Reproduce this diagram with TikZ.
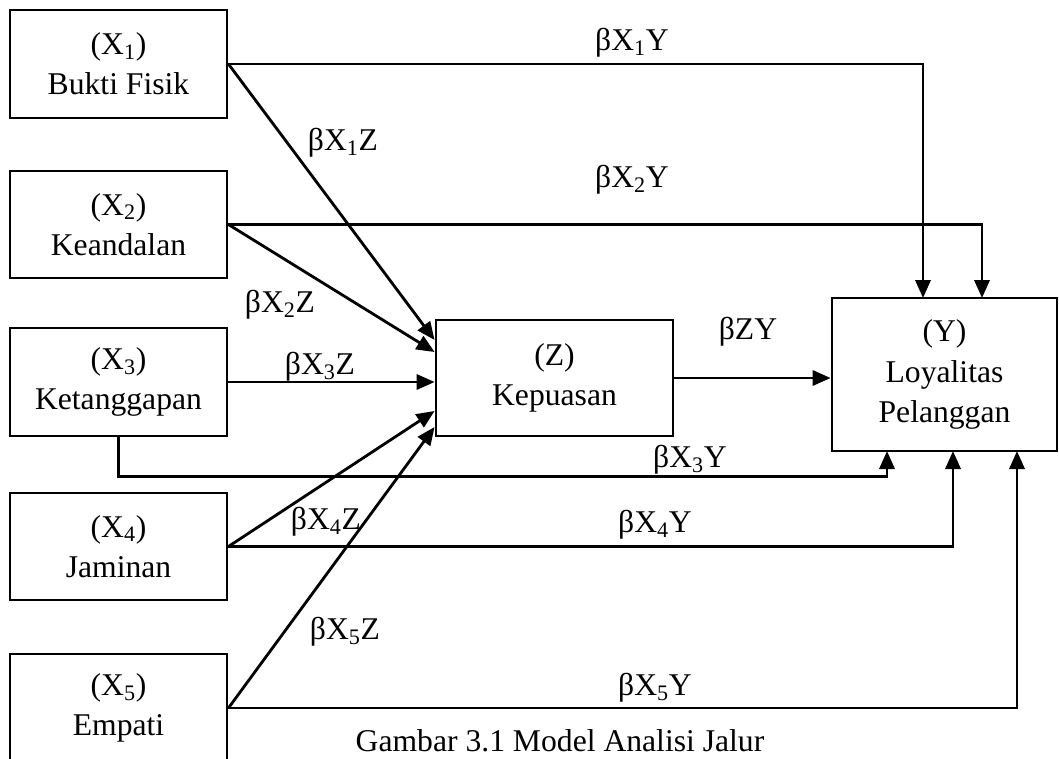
\documentclass[tikz,border=0pt]{standalone}
\usepackage{fontspec}
\setmainfont{Liberation Serif}
\usetikzlibrary{arrows.meta, calc}
\tikzset{
  varbox/.style={draw, line width=2pt, align=center, inner sep=0pt, font=\fontsize{22.5}{28.5}\selectfont},
  panah/.style={line width=2pt, -{Triangle[length=0.45cm, width=0.38cm]}},
  koef/.style={inner sep=0pt, font=\fontsize{22.5}{28.5}\selectfont},
}

\begin{document}
\begin{tikzpicture}[x=0.025cm, y=-0.025cm]
    \clip (0,0) rectangle (1059,758);
    \fill[white] (0,0) rectangle (1059,758);

    % variabel bebas
    \node[varbox, minimum width=5.425cm, minimum height=2.7cm] (x1) at (118.5,64) {(X\textsubscript{1})\\Bukti Fisik};
    \node[varbox, minimum width=5.425cm, minimum height=2.675cm] (x2) at (118.5,224.5) {(X\textsubscript{2})\\Keandalan};
    \node[varbox, minimum width=5.425cm, minimum height=2.7cm] (x3) at (118.5,382) {(X\textsubscript{3})\\Ketanggapan};
    \node[varbox, minimum width=5.425cm, minimum height=2.675cm] (x4) at (118.5,546.5) {(X\textsubscript{4})\\Jaminan};
    \node[varbox, minimum width=5.425cm, minimum height=2.7cm] (x5) at (118.5,708) {(X\textsubscript{5})\\Empati};

    % intervening dan terikat
    \node[varbox, minimum width=5.925cm, minimum height=2.9cm] (z) at (554.5,378) {(Z)\\Kepuasan};
    \node[varbox, minimum width=5.625cm, minimum height=3.825cm] (y) at (944.5,374.5) {(Y)\\Loyalitas\\Pelanggan};

    % titik masuk
    \coordinate (z1) at ($(z.west)+(0,-38)$);
    \coordinate (z2) at ($(z.west)+(0,-26)$);
    \coordinate (z4) at ($(z.west)+(0,33)$);
    \coordinate (z5) at ($(z.west)+(0,49)$);
    \coordinate (y1) at (923,298);
    \coordinate (y2) at (982,298);
    \coordinate (y3) at (887,451);
    \coordinate (y4) at (953,451);
    \coordinate (y5) at (1017,451);

    % jalur ke Z
    \draw[panah] (x1.east) -- (z1);
    \draw[panah] (x2.east) -- (z2);
    \draw[panah] (x3.east) -- (x3.east -| z.west);
    \draw[panah] (x4.east) -- (z4);
    \draw[panah] (x5.east) -- (z5);

    % jalur ke Y
    \draw[panah] (x1.east) -| (y1);
    \draw[panah] (x2.east) -| (y2);
    \draw[panah] (x3.south) -- ++(0,39) -| (y3);
    \draw[panah] (x4.east) -| (y4);
    \draw[panah] (x5.east) -| (y5);
    \draw[panah] (z.east) -- (z.east -| y.west);

    % koefisien
    \node[koef] (kx1y) at (632,43) {βX\textsubscript{1}Y};
    \node[koef] (kx2y) at (632,180) {βX\textsubscript{2}Y};
    \node[koef] (kx1z) at (343,143) {βX\textsubscript{1}Z};
    \node[koef] (kx2z) at (280,305) {βX\textsubscript{2}Z};
    \node[koef] (kx3z) at (320,367) {βX\textsubscript{3}Z};
    \node[koef] (kx4z) at (326,522) {βX\textsubscript{4}Z};
    \node[koef] (kx5z) at (345,632) {βX\textsubscript{5}Z};
    \node[koef] (kzy) at (748,332) {βZY};
    \node[koef] (kx3y) at (690,460) {βX\textsubscript{3}Y};
    \node[koef] (kx4y) at (655,525) {βX\textsubscript{4}Y};
    \node[koef] (kx5y) at (655,688) {βX\textsubscript{5}Y};

    \node[koef, anchor=base] (judul) at (560,751) {Gambar 3.1 Model Analisi Jalur};
\end{tikzpicture}
\end{document}
